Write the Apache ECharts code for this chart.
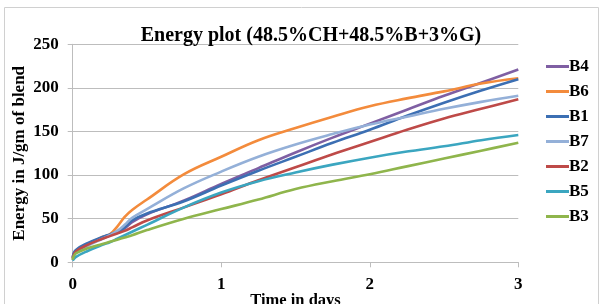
<!DOCTYPE html>
<html>
<head>
<meta charset="utf-8">
<script src="https://cdn.jsdelivr.net/npm/echarts@6/dist/echarts.min.js"></script>
<style>
  html, body { margin: 0; padding: 0; background: #fff; }
  #chart { width: 606px; height: 304px; }
</style>
</head>
<body>
<div id="chart"></div>
<script>
// time points (days)
const times = [0, 0.02, 0.1, 0.2, 0.25, 0.3, 0.35, 0.4, 0.5, 0.75, 1, 1.25, 1.5, 1.75, 2, 2.25, 2.5, 2.75, 3];

// energy values (J/gm of blend)
const b4 = [5, 13, 21, 28, 31, 35, 39, 46, 55, 71, 90, 108, 126, 143, 159, 175, 191, 206, 221];
const b6 = [3, 12, 20, 29, 32, 41, 52, 60, 72, 101, 121, 140, 154, 167, 179, 188, 196, 205, 211];
const b1 = [6, 14, 22, 29, 32, 35, 40, 48, 56, 70, 88, 105, 121, 137, 152, 168, 183, 197, 210];
const b7 = [4, 11, 19, 27, 31, 36, 43, 51, 61, 85, 104, 121, 135, 147, 158, 167, 176, 184, 191];
const b2 = [5, 12, 20, 27, 30, 33, 36, 40, 48, 63, 78, 94, 109, 124, 138, 152, 165, 176, 187];
const b5 = [2, 6, 13, 20, 23, 27, 31, 35, 43, 63, 80, 93, 103, 112, 120, 127, 133, 140, 146];
const b3 = [3, 10, 16, 21, 23.5, 26, 28.5, 31, 37, 50, 61, 72, 84, 93, 101, 110, 119, 128, 137];

const seriesNames = ['B4', 'B6', 'B1', 'B7', 'B2', 'B5', 'B3'];
const seriesData = [b4, b6, b1, b7, b2, b5, b3];
const colors = ['#7f5fa3', '#f38b3c', '#3c6fb3', '#94b0d8', '#be4a48', '#3ba6c0', '#8fb54c'];

const chart = echarts.init(document.getElementById('chart'));
const font = '"Liberation Serif", "Times New Roman", serif';

chart.setOption({
  animation: false,
  color: colors,
  title: {
    text: 'Energy plot (48.5%CH+48.5%B+3%G)',
    left: 306,
    textAlign: 'center',
    top: 21,
    textStyle: { fontFamily: font, fontSize: 20, fontWeight: 'bold', color: '#000' },
  },
  graphic: [
    {
      type: 'rect',
      shape: { x: 4.5, y: 7.5, width: 594, height: 320 },
      style: { fill: 'none', stroke: '#d0d0d0', lineWidth: 1 },
      silent: true,
    },
  ],
  legend: {
    orient: 'vertical',
    left: 541,
    top: 53,
    itemWidth: 23,
    itemHeight: 14,
    itemGap: 8,
    icon: 'path://M0,6 L23,6 L23,9 L0,9 Z',
    textStyle: { fontFamily: font, fontSize: 17, fontWeight: 'bold', color: '#000', padding: [0, 0, 0, -5] },
    data: seriesNames,
  },
  grid: { left: 72.7, right: 87.7, top: 44.3, bottom: 41.7, outerBoundsMode: 'none' },
  xAxis: {
    type: 'value',
    min: 0,
    max: 3,
    interval: 1,
    name: 'Time in days',
    nameLocation: 'middle',
    nameMoveOverlap: false,
    nameGap: 30,
    nameTextStyle: { fontFamily: font, fontSize: 16.5, fontWeight: 'bold', color: '#000' },
    axisLine: { lineStyle: { color: '#bdbdbd', width: 1 } },
    axisTick: { show: true, length: 5, lineStyle: { color: '#bdbdbd' } },
    axisLabel: { fontFamily: font, fontSize: 17, fontWeight: 'bold', color: '#000', margin: 14 },
    splitLine: { show: false },
  },
  yAxis: {
    type: 'value',
    min: 0,
    max: 250,
    interval: 50,
    name: 'Energy in J/gm of blend',
    nameLocation: 'middle',
    nameMoveOverlap: false,
    nameGap: 45,
    nameTextStyle: { fontFamily: font, fontSize: 17, fontWeight: 'bold', color: '#000' },
    axisLine: { show: true, lineStyle: { color: '#bdbdbd', width: 1 } },
    axisTick: { show: true, length: 5, lineStyle: { color: '#bdbdbd' } },
    axisLabel: { fontFamily: font, fontSize: 17, fontWeight: 'bold', color: '#000', margin: 14 },
    splitLine: { lineStyle: { color: '#bdbdbd', width: 1 } },
  },
  series: seriesNames.map((name, i) => ({
    name: name,
    type: 'line',
    smooth: 0.4,
    showSymbol: false,
    lineStyle: { width: 2.6 },
    data: times.map((t, j) => [t, seriesData[i][j]]),
  })),
});
</script>
</body>
</html>
